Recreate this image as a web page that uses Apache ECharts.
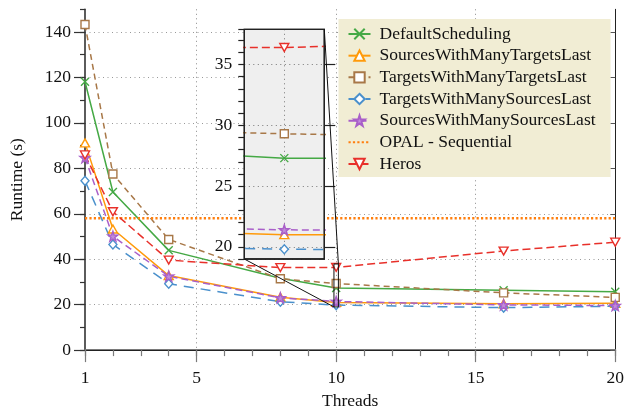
<!DOCTYPE html>
<html><head><meta charset="utf-8">
<script src="https://cdn.jsdelivr.net/npm/echarts@6/dist/echarts.min.js"></script>
<style>html,body{margin:0;padding:0;background:#fff}#c{width:627px;height:415px}</style>
</head><body><div id="c"></div>
<script>
// ---- data ----
const threads = [1, 2, 4, 8, 10, 16, 20];
const defaultScheduling = [118.1, 69.6, 43.9, 31.6, 27.3, 26.3, 25.7];
const sourcesManyTargets = [91.2, 53.3, 32.8, 23.3, 21.0, 20.4, 20.6];
const targetsManyTargets = [143.3, 77.5, 48.7, 31.4, 29.3, 25.2, 23.2];
const targetsManySources = [74.5, 46.5, 29.2, 21.3, 19.8, 18.7, 19.3];
const sourcesManySources = [84.7, 50.1, 32.5, 23.0, 21.4, 19.9, 19.6];
const opalSequential = 58.0;
const heros = [85.9, 60.9, 39.6, 36.3, 36.4, 43.6, 47.5];
const xTickLabels = [1, 5, 10, 15, 20];
const yTickLabels = [0, 20, 40, 60, 80, 100, 120, 140];
const insetTickLabels = [20, 25, 30, 35];
const insetX = [9.92, 10.08];
const insetY = [19, 37.9];

// ---- layout / style ----
const FONT = '"Liberation Serif", "Times New Roman", serif';
const FS = 17.5;
const MAIN = {left: 83.5, top: 9.3, width: 536, height: 346.7};
const INSET = {left: 244.3, top: 29.3, width: 80, height: 229.7};
const STAR = 'path://M50,0L61.8,35.1L97.6,34.5L68.8,56.7L79.4,90.9L50,70.5L20.6,90.9L31.2,56.7L2.4,34.5L38.2,35.1Z';
const XMARK = 'path://M0,0L10,10M10,0L0,10';
const DOWNTRI = 'path://M0,0L10,0L5,8.66Z';

const defs = [
  {name: 'DefaultScheduling', data: defaultScheduling, color: '#45a945', symbol: XMARK, size: [8, 8], fill: '#45a945', dash: 'solid'},
  {name: 'SourcesWithManyTargetsLast', data: sourcesManyTargets, color: '#ff9a0a', symbol: 'triangle', size: [9, 8], fill: '#fff', dash: 'solid'},
  {name: 'TargetsWithManyTargetsLast', data: targetsManyTargets, color: '#a87848', symbol: 'rect', size: [8, 8], fill: '#fff', dash: [6, 4]},
  {name: 'TargetsWithManySourcesLast', data: targetsManySources, color: '#4a90cc', symbol: 'diamond', size: [8, 9], fill: '#fff', dash: [10, 7]},
  {name: 'SourcesWithManySourcesLast', data: sourcesManySources, color: '#a95fc9', symbol: STAR, size: [10, 10], fill: '#c18ddb', dash: [7, 4]},
  {name: 'Heros', data: heros, color: '#e8302a', symbol: DOWNTRI, size: [9, 8], fill: '#fff', dash: [8, 4]}
];

function mkSeries(d, xi, yi, z) {
  return {
    type: 'line', name: d.name, xAxisIndex: xi, yAxisIndex: yi, z: z,
    data: threads.map((t, i) => [t, d.data[i]]),
    symbol: d.symbol, symbolSize: d.size, showAllSymbol: true,
    itemStyle: {color: d.fill, borderColor: d.color, borderWidth: 1.4},
    lineStyle: {color: d.color, width: 1.5, type: d.dash},
    emphasis: {disabled: true}, clip: true
  };
}

const series = [];
defs.slice(0, 5).forEach(d => series.push(mkSeries(d, 0, 0, 2)));
series.push({
  type: 'line', name: 'OPAL - Sequential', xAxisIndex: 0, yAxisIndex: 0, z: 2,
  data: [[xTickLabels[0], opalSequential], [xTickLabels[xTickLabels.length - 1], opalSequential]],
  symbol: 'none', itemStyle: {color: '#ff7f0e', opacity: 0},
  lineStyle: {color: '#ff7f0e', width: 2.6, type: [2.2, 2.2], opacity: 1}, emphasis: {disabled: true}
});
series.push(mkSeries(defs[5], 0, 0, 2));
defs.forEach(d => series.push(mkSeries(d, 3, 3, 12)));

const lab = {fontFamily: FONT, fontSize: FS, color: '#111'};
const dotted = [1, 3.5];

const option = {
  animation: false,
  backgroundColor: '#fff',
  grid: [
    {left: MAIN.left, top: MAIN.top, width: MAIN.width, height: MAIN.height},
    {left: INSET.left, top: INSET.top, width: INSET.width, height: INSET.height}
  ],
  legend: {
    orient: 'vertical', left: 338.5, top: 19,
    itemWidth: 22, itemHeight: 13, itemGap: 3.67,
    padding: [6, 15, 4, 9], backgroundColor: '#f1edd4',
    textStyle: {fontFamily: FONT, fontSize: FS, color: '#111', lineHeight: 13, padding: [0, 0, 0, 4]},
    data: ['DefaultScheduling', 'SourcesWithManyTargetsLast', 'TargetsWithManyTargetsLast',
           'TargetsWithManySourcesLast', 'SourcesWithManySourcesLast', 'OPAL - Sequential', 'Heros'],
    selectedMode: false
  },
  xAxis: [
    {type: 'value', gridIndex: 0, min: 1, max: 20, interval: 1, position: 'bottom',
     name: 'Threads', nameLocation: 'middle', nameGap: 41, nameTextStyle: lab,
     axisLine: {lineStyle: {color: '#7a7a7a', width: 2}},
     axisTick: {length: 6, lineStyle: {color: '#7a7a7a', width: 1.2}},
     axisLabel: Object.assign({margin: 19, formatter: v => xTickLabels.includes(v) ? String(v) : ''}, lab),
     splitLine: {show: true, lineStyle: {color: ['none', 'none', 'none', 'none', '#8a8a8a'], type: dotted, width: 1}}},
    {type: 'value', gridIndex: 0, min: 1, max: 20, position: 'bottom',
     axisLine: {show: false}, axisLabel: {show: false}, splitLine: {show: false},
     axisTick: {customValues: xTickLabels, length: 12, lineStyle: {color: '#7a7a7a', width: 1.2}}},
    {type: 'value', gridIndex: 0, min: 1, max: 20, position: 'top',
     axisLine: {lineStyle: {color: '#222', width: 1}}, axisTick: {show: false}, axisLabel: {show: false}, splitLine: {show: false}},
    {type: 'value', gridIndex: 1, min: insetX[0], max: insetX[1], interval: 0.08, z: 11,
     axisLine: {show: false}, axisTick: {show: false}, axisLabel: {show: false},
     splitLine: {show: true, lineStyle: {color: ['none', '#777', 'none'], type: dotted, width: 1}}}
  ],
  yAxis: [
    {type: 'value', gridIndex: 0, min: 0, max: 150, interval: 10, position: 'left',
     name: 'Runtime (s)', nameLocation: 'middle', nameGap: 59, nameTextStyle: lab,
     axisLine: {lineStyle: {color: '#333', width: 1.6}},
     axisTick: {length: 5, lineStyle: {color: '#333', width: 1.2}},
     axisLabel: Object.assign({margin: 14, formatter: v => yTickLabels.includes(v) ? String(v) : ''}, lab),
     splitLine: {show: true, lineStyle: {color: ['#999', 'none'], type: dotted, width: 1}}},
    {type: 'value', gridIndex: 0, min: 0, max: 150, position: 'left',
     axisLine: {show: false}, axisLabel: {show: false}, splitLine: {show: false},
     axisTick: {customValues: yTickLabels, length: 11, lineStyle: {color: '#333', width: 1.2}}},
    {type: 'value', gridIndex: 0, min: 0, max: 150, position: 'right',
     axisLine: {lineStyle: {color: '#222', width: 1}}, axisLabel: {show: false}, splitLine: {show: false},
     axisTick: {customValues: yTickLabels, inside: true, length: 5, lineStyle: {color: '#555', width: 1}}},
    {type: 'value', gridIndex: 1, min: insetY[0], max: insetY[1], interval: 1, z: 11,
     axisLine: {show: false},
     axisTick: {length: 6, lineStyle: {color: '#222', width: 1.2}},
     axisLabel: Object.assign({margin: 12, formatter: v => insetTickLabels.includes(v) ? String(v) : ''}, lab),
     splitLine: {show: true, lineStyle: {color: ['none', '#777', 'none', 'none', 'none'], type: dotted, width: 1}}},
    {type: 'value', gridIndex: 1, min: insetY[0], max: insetY[1], z: 11,
     axisLine: {show: false}, axisLabel: {show: false}, splitLine: {show: false},
     axisTick: {customValues: insetTickLabels, length: 11, lineStyle: {color: '#222', width: 1.2}}}
  ],
  series: series
};

const chart = echarts.init(document.getElementById('c'), null, {renderer: 'canvas'});
chart.setOption(option);

// inset frame, zoom rectangle and connectors
const a = chart.convertToPixel({xAxisIndex: 0, yAxisIndex: 0}, [insetX[0], insetY[1]]);
const b = chart.convertToPixel({xAxisIndex: 0, yAxisIndex: 0}, [insetX[1], insetY[0]]);
chart.setOption({
  graphic: [
    {type: 'rect', z: 10, silent: true,
     shape: {x: INSET.left, y: INSET.top, width: INSET.width, height: INSET.height},
     style: {fill: '#efefef', stroke: '#222', lineWidth: 1.3}},
    {type: 'rect', z: 13, silent: true,
     shape: {x: INSET.left, y: INSET.top, width: INSET.width, height: INSET.height},
     style: {fill: 'none', stroke: '#222', lineWidth: 1.3}},
    {type: 'rect', z: 13, silent: true,
     shape: {x: a[0], y: a[1], width: b[0] - a[0], height: b[1] - a[1]},
     style: {fill: 'none', stroke: '#111', lineWidth: 1}},
    {type: 'line', z: 13, silent: true,
     shape: {x1: INSET.left, y1: INSET.top + INSET.height, x2: a[0], y2: b[1]},
     style: {stroke: '#111', lineWidth: 1}},
    {type: 'line', z: 13, silent: true,
     shape: {x1: INSET.left + INSET.width, y1: INSET.top, x2: b[0], y2: a[1]},
     style: {stroke: '#111', lineWidth: 1}}
  ]
});
</script></body></html>
